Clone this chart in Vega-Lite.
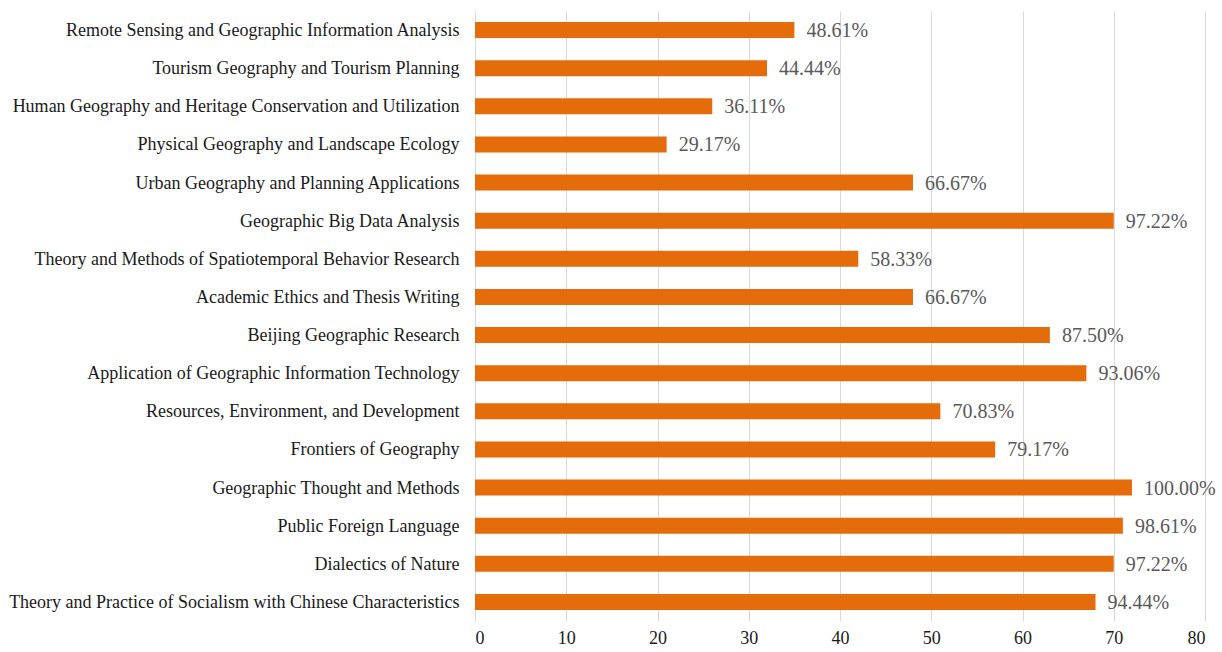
{
  "$schema": "https://vega.github.io/schema/vega-lite/v6.json",
  "width": 730,
  "height": 610,
  "autosize": {"type": "none"},
  "padding": {"left": 475, "top": 11, "right": 17, "bottom": 31},
  "background": "white",
  "config": {
    "view": {"stroke": null},
    "font": "Liberation Serif",
    "axis": {"labelFont": "Liberation Serif"},
    "text": {"font": "Liberation Serif"}
  },
  "data": {
    "values": [
      {"course": "Remote Sensing and Geographic Information Analysis", "count": 35, "pct": "48.61%"},
      {"course": "Tourism Geography and Tourism Planning", "count": 32, "pct": "44.44%"},
      {"course": "Human Geography and Heritage Conservation and Utilization", "count": 26, "pct": "36.11%"},
      {"course": "Physical Geography and Landscape Ecology", "count": 21, "pct": "29.17%"},
      {"course": "Urban Geography and Planning Applications", "count": 48, "pct": "66.67%"},
      {"course": "Geographic Big Data Analysis", "count": 70, "pct": "97.22%"},
      {"course": "Theory and Methods of Spatiotemporal Behavior Research", "count": 42, "pct": "58.33%"},
      {"course": "Academic Ethics and Thesis Writing", "count": 48, "pct": "66.67%"},
      {"course": "Beijing Geographic Research", "count": 63, "pct": "87.50%"},
      {"course": "Application of Geographic Information Technology", "count": 67, "pct": "93.06%"},
      {"course": "Resources, Environment, and Development", "count": 51, "pct": "70.83%"},
      {"course": "Frontiers of Geography", "count": 57, "pct": "79.17%"},
      {"course": "Geographic Thought and Methods", "count": 72, "pct": "100.00%"},
      {"course": "Public Foreign Language", "count": 71, "pct": "98.61%"},
      {"course": "Dialectics of Nature", "count": 70, "pct": "97.22%"},
      {"course": "Theory and Practice of Socialism with Chinese Characteristics", "count": 68, "pct": "94.44%"}
    ]
  },
  "encoding": {
    "y": {
      "field": "course",
      "type": "nominal",
      "sort": null,
      "scale": {"paddingInner": 0.58, "paddingOuter": 0.29},
      "axis": {
        "title": null,
        "domain": false,
        "ticks": false,
        "labelFontSize": 18,
        "labelColor": "#1a1a1a",
        "labelPadding": 16,
        "labelLimit": 0,
        "labelOffset": 1
      }
    },
    "x": {
      "field": "count",
      "type": "quantitative",
      "scale": {"domain": [0, 80], "nice": false},
      "axis": {
        "title": null,
        "values": [0, 10, 20, 30, 40, 50, 60, 70, 80],
        "domain": false,
        "ticks": false,
        "grid": true,
        "gridColor": "#d9d9d9",
        "gridWidth": 1,
        "labelFontSize": 18,
        "labelColor": "#1a1a1a",
        "labelPadding": 8
      }
    }
  },
  "layer": [
    {"mark": {"type": "bar", "color": "#E46C0A"}},
    {
      "mark": {"type": "text", "align": "left", "baseline": "middle", "dx": 12, "dy": 1, "fontSize": 20, "color": "#595959"},
      "encoding": {"text": {"field": "pct"}}
    }
  ]
}
